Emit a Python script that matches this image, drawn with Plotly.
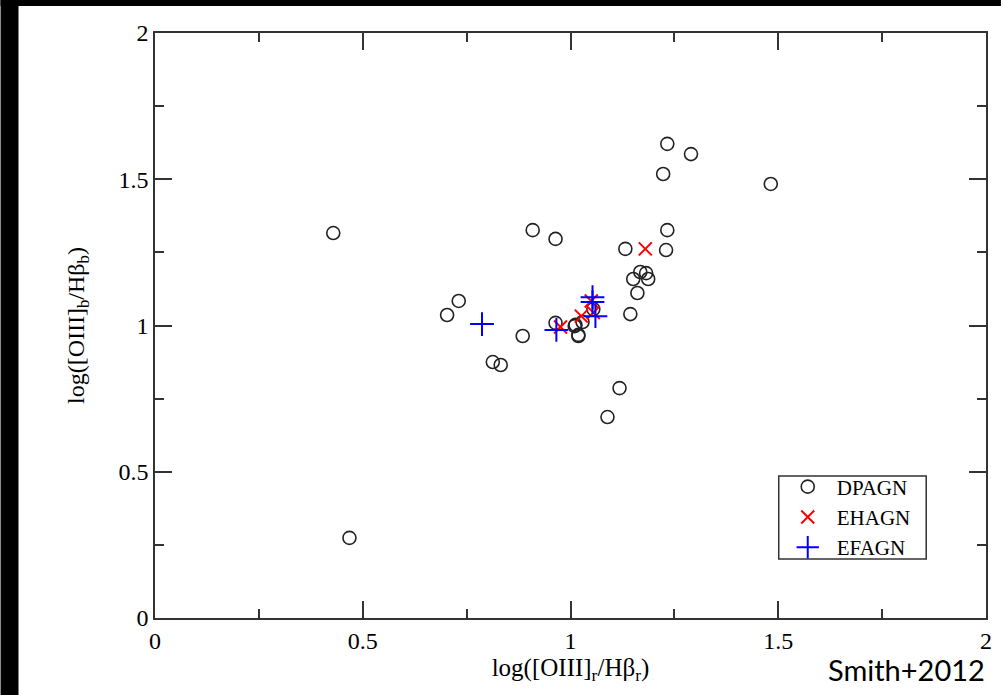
import plotly.graph_objects as go

# DPAGN (open circles)
dp_x = [0.429, 0.468, 0.703, 0.731, 0.813, 0.832, 0.885, 0.909, 0.964, 0.964,
        1.012, 1.019, 1.010, 1.029, 1.019, 1.055, 1.233, 1.290, 1.223, 1.482,
        1.233, 1.132, 1.230, 1.168, 1.182, 1.187, 1.151, 1.161, 1.144, 1.118, 1.089]
dp_y = [1.316, 0.274, 1.036, 1.084, 0.875, 0.865, 0.964, 1.326, 1.296, 1.009,
        1.002, 0.968, 0.998, 1.012, 0.964, 1.056, 1.621, 1.586, 1.518, 1.484,
        1.326, 1.262, 1.258, 1.183, 1.179, 1.159, 1.159, 1.111, 1.039, 0.786, 0.687]

# EHAGN (red x)
eh_x = [0.976, 1.026, 1.055, 1.050, 1.180]
eh_y = [0.995, 1.032, 1.044, 1.084, 1.262]

# EFAGN (blue +)
ef_x = [0.787, 0.966, 1.053, 1.053, 1.060]
ef_y = [1.005, 0.985, 1.097, 1.080, 1.032]

x_ticks = [0, 0.5, 1, 1.5, 2]
x_tick_text = ["0", "0.5", "1", "1.5", "2"]
y_ticks = [0, 0.5, 1, 1.5, 2]
y_tick_text = ["0", "0.5", "1", "1.5", "2"]

AX = "#333333"
SERIF = "Liberation Serif, Times New Roman, serif"

fig = go.Figure()
fig.add_trace(go.Scatter(x=dp_x, y=dp_y, mode="markers", name="DPAGN",
                         marker=dict(symbol="circle-open", size=13,
                                     color="#222222", line=dict(width=1.6))))
fig.add_trace(go.Scatter(x=eh_x, y=eh_y, mode="markers", name="EHAGN",
                         marker=dict(symbol="x-thin-open", size=13,
                                     color="#ff0000", line=dict(width=2))))
fig.add_trace(go.Scatter(x=ef_x, y=ef_y, mode="markers", name="EFAGN",
                         marker=dict(symbol="cross-thin-open", size=17,
                                     color="#0000ff", line=dict(width=2))))

axis_common = dict(
    showgrid=False, zeroline=False, showline=True, linecolor=AX, linewidth=1.5,
    mirror="allticks", ticks="inside", ticklen=17, tickwidth=1.5, tickcolor=AX,
    tickfont=dict(family=SERIF, size=24, color="black"),
    minor=dict(ticks="inside", ticklen=9, tickwidth=1.5, tickcolor=AX, dtick=0.25),
)

fig.update_xaxes(range=[0, 2], tickvals=x_ticks, ticktext=x_tick_text,
                 title=dict(text="log([OIII]<sub>r</sub>/Hβ<sub>r</sub>)",
                            font=dict(family=SERIF, size=25, color="black"),
                            standoff=2),
                 **axis_common)
fig.update_yaxes(range=[0, 2], tickvals=y_ticks, ticktext=y_tick_text,
                 title=dict(text="log([OIII]<sub>b</sub>/Hβ<sub>b</sub>)",
                            font=dict(family=SERIF, size=24, color="black"),
                            standoff=27),
                 **axis_common)

W, H = 1004, 695
L, R, T, B = 155, 15, 33, 77
pw, ph = W - L - R, H - T - B

def px(xp):
    return (xp - L) / pw

def py(yp):
    return (H - B - yp) / ph

fig.update_layout(
    width=W, height=H,
    margin=dict(l=L, r=R, t=T, b=B),
    paper_bgcolor="white", plot_bgcolor="white",
    showlegend=True,
    legend=dict(x=px(781), y=py(517), xanchor="left", yanchor="middle",
                borderwidth=0, bgcolor="rgba(0,0,0,0)",
                font=dict(family=SERIF, size=21, color="black"),
                itemsizing="trace", itemwidth=48, tracegroupgap=0),
    shapes=[
        dict(type="rect", xref="paper", yref="paper",
             x0=px(0), x1=px(W), y0=py(0), y1=py(6),
             fillcolor="black", line=dict(width=0)),
        dict(type="rect", xref="paper", yref="paper",
             x0=px(0), x1=px(18), y0=py(0), y1=py(H),
             fillcolor="black", line=dict(width=0)),
        # legend frame
        dict(type="rect", xref="paper", yref="paper",
             x0=px(781), x1=px(929), y0=py(559), y1=py(476),
             fillcolor="white", line=dict(color=AX, width=1.5), layer="above"),
    ],
    annotations=[
        dict(text="Smith+2012", xref="paper", yref="paper",
             x=px(990), y=py(689), xanchor="right", yanchor="bottom",
             showarrow=False,
             font=dict(family="Lato, Roboto, sans-serif",
                       size=29, color="black")),
    ],
)

fig.write_html("out.html")
